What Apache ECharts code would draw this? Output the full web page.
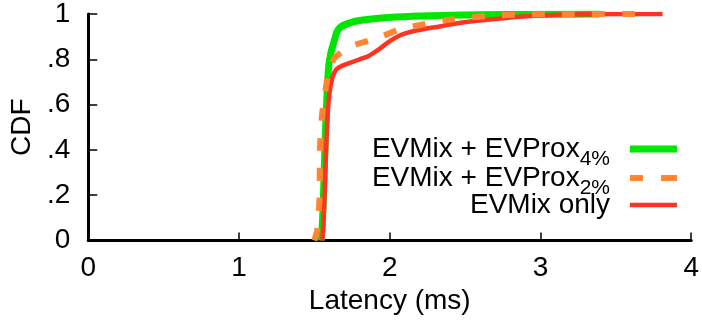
<!DOCTYPE html>
<html>
<head>
<meta charset="utf-8">
<script src="https://cdn.jsdelivr.net/npm/echarts@6/dist/echarts.min.js"></script>
<style>
  html, body { margin: 0; padding: 0; background: #fff; }
  #chart { width: 702px; height: 321px; }
</style>
</head>
<body>
<div id="chart"></div>
<script>
// Latency CDFs: [latency in ms, cumulative fraction]
const evprox4 = [
  [1.545, 0], [1.555, 0.1], [1.565, 0.3], [1.575, 0.5], [1.585, 0.66],
  [1.595, 0.77], [1.61, 0.83], [1.627, 0.87], [1.649, 0.92], [1.67, 0.94],
  [1.70, 0.952], [1.78, 0.969], [1.95, 0.982], [2.15, 0.99], [2.4, 0.995],
  [2.8, 0.998], [3.39, 1.0]
];
const evprox2 = [
  [1.50, 0], [1.52, 0.05], [1.535, 0.2], [1.537, 0.4], [1.55, 0.55],
  [1.575, 0.67], [1.605, 0.77], [1.64, 0.81], [1.70, 0.84], [1.76, 0.862],
  [1.85, 0.88], [1.96, 0.905], [2.06, 0.93], [2.16, 0.946], [2.37, 0.972],
  [2.59, 0.988], [2.8, 0.996], [3.1, 0.999], [3.65, 1.0]
];
const evmixOnly = [
  [1.553, 0], [1.565, 0.15], [1.575, 0.35], [1.588, 0.55], [1.60, 0.65],
  [1.62, 0.72], [1.645, 0.755], [1.68, 0.77], [1.74, 0.785], [1.80, 0.80],
  [1.86, 0.815], [1.93, 0.845], [2.0, 0.88], [2.07, 0.906], [2.13, 0.92],
  [2.22, 0.933], [2.33, 0.945], [2.43, 0.957], [2.55, 0.968], [2.72, 0.979],
  [2.88, 0.989], [3.05, 0.995], [3.3, 0.999], [3.81, 1.0]
];

const seriesNames = ['EVMix + EVProx4%', 'EVMix + EVProx2%', 'EVMix only'];
const xTickLabels = ['0', '1', '2', '3', '4'];
const yTickLabels = ['0', '.2', '.4', '.6', '.8', '1'];

const FONT = '"Liberation Sans", Helvetica, Arial, sans-serif';
const colors = { g: '#00e600', o: '#ff8533', r: '#ff3322' };

// legend sample strokes: solid bar, two dashes, thinner solid bar
const icons = {
  solid: 'rect',
  dashed: 'path://M0,0H13V6H0Z M31,0H47V6H31Z'
};

function legendFormatter(name) {
  const m = name.match(/^(.*?)(\d+%)$/);
  if (m) return '{m|' + m[1] + '}{s|' + m[2] + '}';
  return '{m|' + name + '}';
}
const legendRich = {
  m: { fontSize: 28, fontFamily: FONT, color: '#000', lineHeight: 28, verticalAlign: 'top' },
  s: { fontSize: 21, fontFamily: FONT, color: '#000', lineHeight: 21, verticalAlign: 'top', padding: [14, 0, 0, 0] }
};
function legendAt(name, top, icon, h) {
  return {
    data: [{ name: name, icon: icon }],
    right: 25, top: top,
    orient: 'vertical', align: 'right',
    itemWidth: 47, itemHeight: h,
    padding: 0,
    formatter: legendFormatter,
    itemStyle: { borderWidth: 0 },
    textStyle: { rich: legendRich, padding: [0, 15, 0, 0] },
    selectedMode: false
  };
}

const chart = echarts.init(document.getElementById('chart'), null, { renderer: 'canvas' });
chart.setOption({
  animation: false,
  backgroundColor: '#fff',
  grid: { left: 86, top: 13.5, width: 608, height: 227, containLabel: false },
  legend: [
    legendAt(seriesNames[0], 135, icons.solid, 7),
    legendAt(seriesNames[1], 164, icons.dashed, 6),
    legendAt(seriesNames[2], 191, icons.solid, 4.5)
  ],
  xAxis: {
    type: 'value', min: 0, max: 4, interval: 1,
    name: 'Latency (ms)', nameLocation: 'middle', nameGap: 45,
    nameTextStyle: { fontSize: 28, fontFamily: FONT, color: '#000' },
    axisLine: { lineStyle: { color: '#000', width: 3 } },
    axisTick: { inside: true, length: 8, lineStyle: { color: '#000', width: 1.5 } },
    splitLine: { show: false },
    axisLabel: {
      fontSize: 28, fontFamily: FONT, color: '#000', margin: 14,
      formatter: v => xTickLabels[Math.round(v)]
    }
  },
  yAxis: {
    type: 'value', min: 0, max: 1, interval: 0.2,
    name: 'CDF', nameLocation: 'middle', nameGap: 44, nameRotate: 90,
    nameTextStyle: { fontSize: 28, fontFamily: FONT, color: '#000' },
    axisLine: { show: true, lineStyle: { color: '#000', width: 3 } },
    axisTick: { show: true, inside: true, length: 9, lineStyle: { color: '#000', width: 1.5 } },
    splitLine: { show: false },
    axisLabel: {
      fontSize: 28, fontFamily: FONT, color: '#000', margin: 18,
      formatter: v => yTickLabels[Math.round(v * 5)]
    }
  },
  series: [
    {
      name: seriesNames[0], type: 'line', data: evprox4, showSymbol: false, symbol: 'none',
      smooth: 0.25, color: colors.g, lineStyle: { color: colors.g, width: 7 }, z: 2
    },
    {
      name: seriesNames[2], type: 'line', data: evmixOnly, showSymbol: false, symbol: 'none',
      smooth: 0.25, color: colors.r, lineStyle: { color: colors.r, width: 4.5 }, z: 3
    },
    {
      name: seriesNames[1], type: 'line', data: evprox2, showSymbol: false, symbol: 'none',
      smooth: 0.25, color: colors.o, lineStyle: { color: colors.o, width: 6, type: [13, 17] }, z: 4
    }
  ]
});
</script>
</body>
</html>
